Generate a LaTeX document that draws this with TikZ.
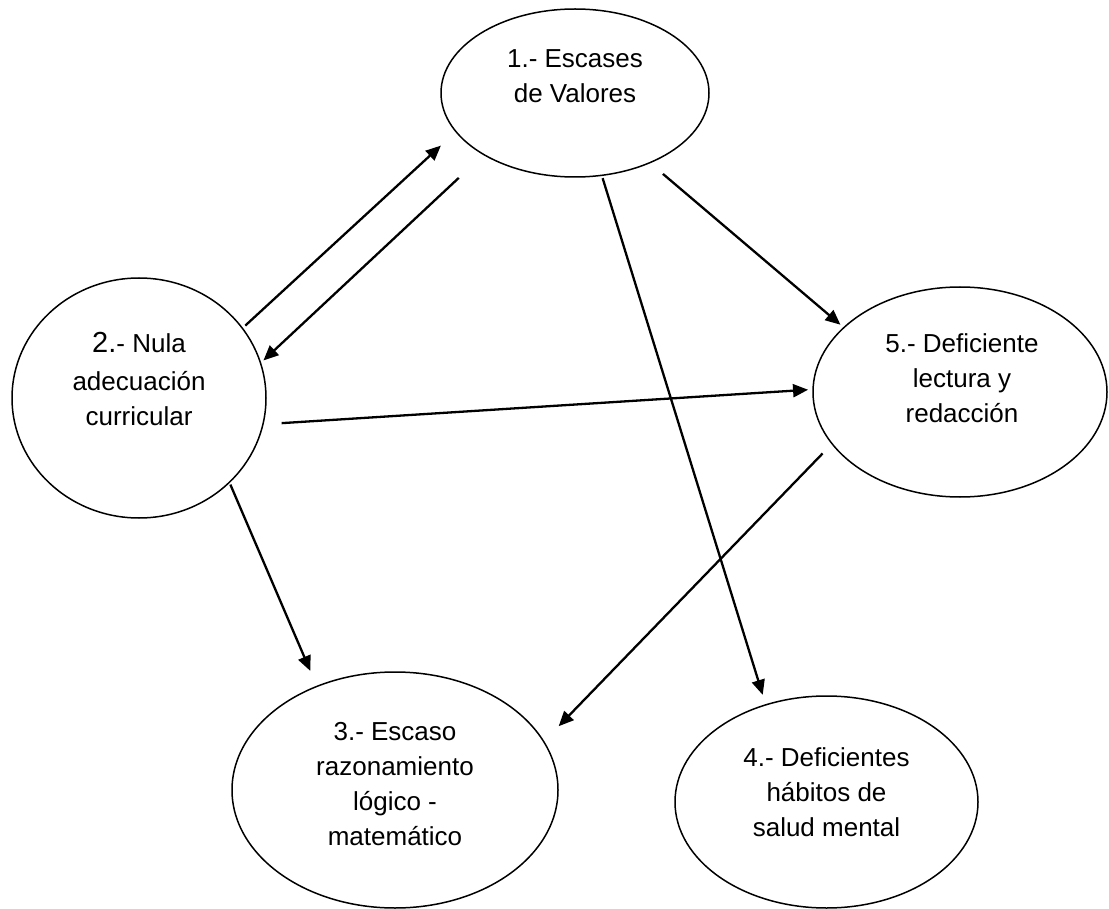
\documentclass[tikz,border=0pt]{standalone}
\usepackage{fontspec}
\setmainfont{Liberation Sans}
\usetikzlibrary{shapes.geometric,arrows.meta}
\begin{document}
\begin{tikzpicture}[x=1pt,y=-1pt,
  oval/.style={ellipse, draw, line width=1.5pt, inner sep=0pt, outer sep=0pt},
  lbl/.style={font=\fontsize{26}{35}\selectfont, align=center, inner sep=0pt},
  arr/.style={line width=2.3pt, -{Triangle[length=15pt,width=13pt]}}]
\useasboundingbox (0,0) rectangle (1109,909);
\node[oval, minimum width=268pt, minimum height=168pt,
  label={[lbl,yshift=14.5pt]center:{\strut 1.- Escases\\ de Valores\strut}}] (n1) at (575,93) {};
\node[oval, minimum width=254pt, minimum height=240pt,
  label={[lbl,yshift=16.5pt]center:{\strut{\fontsize{29}{35}\selectfont 2.}- Nula\\[3pt] adecuación\\ curricular\strut}}] (n2) at (139,398) {};
\node[oval, minimum width=294pt, minimum height=210pt,
  label={[lbl,yshift=12pt,xshift=2pt]center:{\strut 5.- Deficiente\\ lectura y\\ redacción\strut}}] (n5) at (960,392) {};
\node[oval, minimum width=326pt, minimum height=236pt,
  label={[lbl,yshift=4.5pt]center:{\strut 3.- Escaso\\ razonamiento\\ lógico -\\ matemático\strut}}] (n3) at (395,790) {};
\node[oval, minimum width=303pt, minimum height=212pt,
  label={[lbl,yshift=8pt]center:{\strut 4.- Deficientes\\ hábitos de\\ salud mental\strut}}] (n4) at (826.5,802) {};
\draw[arr, shorten <=4pt, shorten >=20.6pt] (n2.34.3) -- (n1.198.8);
\draw[arr, shorten <=34.2pt, shorten >=4pt] (n1.214.2) -- (n2.16.7);
\draw[arr, shorten <=17.3pt, shorten >=4.5pt] (n1.317.1) -- (n5.151.8);
\draw[arr, shorten <=18.8pt, shorten >=5pt] (n2.348.6) -- (n5.179.5);
\draw[arr, shorten <=3pt, shorten >=10.5pt] (n1.288.9) -- (n4.122.2);
\draw[arr, shorten <=2.5pt, shorten >=16.9pt] (n2.317.4) -- (n3.127.2);
\draw[arr, shorten <=13.6pt, shorten >=21.5pt] (n5.202.3) -- (n3.18.5);
\end{tikzpicture}
\end{document}
